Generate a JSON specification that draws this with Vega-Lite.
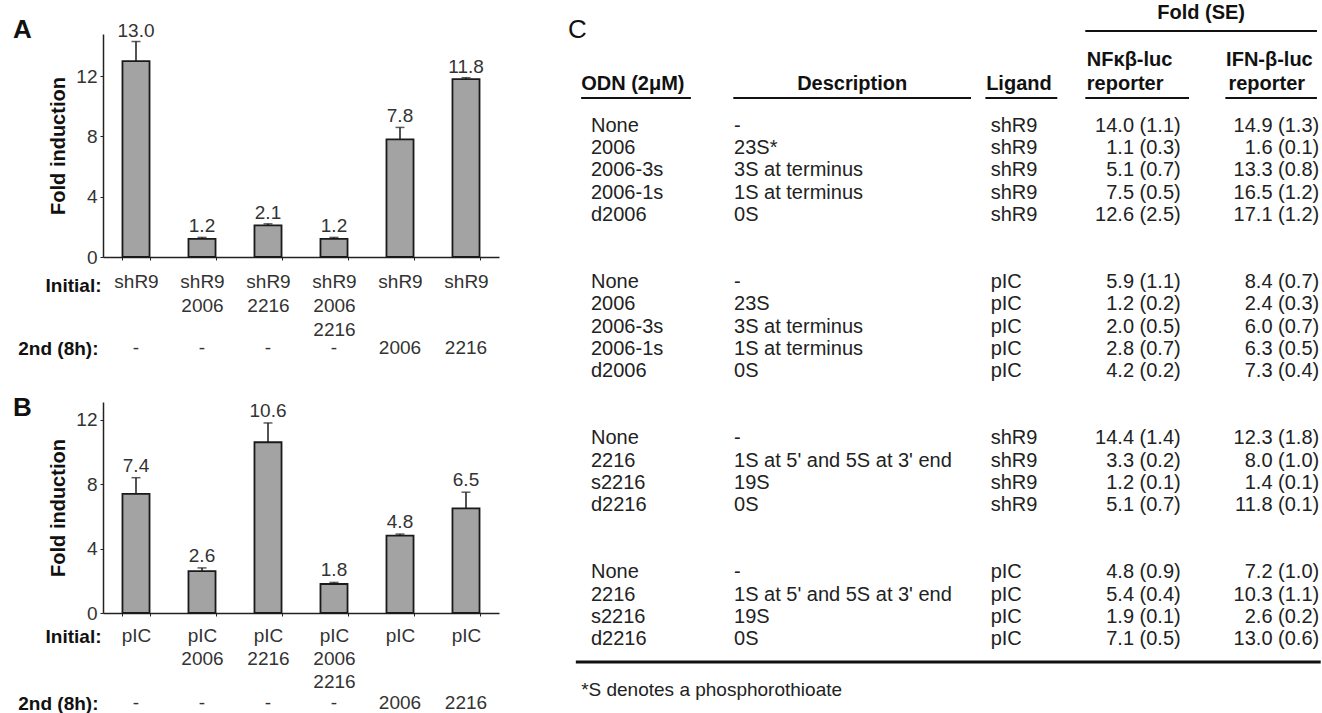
{
  "$schema": "https://vega.github.io/schema/vega-lite/v6.json",
  "padding": {"left": 13, "top": 3, "right": 0, "bottom": 0},
  "background": "white",
  "config": {
    "view": {"stroke": null},
    "font": "Liberation Sans",
    "text": {"font": "Liberation Sans"},
    "axis": {"labelFont": "Liberation Sans", "titleFont": "Liberation Sans", "grid": false, "labelColor": "#333", "titleColor": "#111", "domainColor": "#222", "tickColor": "#222"},
    "title": {"font": "Liberation Sans"}
  },
  "datasets": {
    "panelA": [
      {"cond": "shR9;-", "value": 13.0, "hi": 14.3},
      {"cond": "shR9 2006;-", "value": 1.2, "hi": 1.3},
      {"cond": "shR9 2216;-", "value": 2.1, "hi": 2.2},
      {"cond": "shR9 2006 2216;-", "value": 1.2, "hi": 1.3},
      {"cond": "shR9;2006", "value": 7.8, "hi": 8.6},
      {"cond": "shR9;2216", "value": 11.8, "hi": 11.9}
    ],
    "panelB": [
      {"cond": "pIC;-", "value": 7.4, "hi": 8.4},
      {"cond": "pIC 2006;-", "value": 2.6, "hi": 2.8},
      {"cond": "pIC 2216;-", "value": 10.6, "hi": 11.8},
      {"cond": "pIC 2006 2216;-", "value": 1.8, "hi": 1.9},
      {"cond": "pIC;2006", "value": 4.8, "hi": 4.9},
      {"cond": "pIC;2216", "value": 6.5, "hi": 7.5}
    ],
    "table": [
      {"line": 0, "odn": "None", "desc": "-", "ligand": "shR9", "nf": "14.0 (1.1)", "ifn": "14.9 (1.3)"},
      {"line": 1, "odn": "2006", "desc": "23S*", "ligand": "shR9", "nf": "1.1 (0.3)", "ifn": "1.6 (0.1)"},
      {"line": 2, "odn": "2006-3s", "desc": "3S at terminus", "ligand": "shR9", "nf": "5.1 (0.7)", "ifn": "13.3 (0.8)"},
      {"line": 3, "odn": "2006-1s", "desc": "1S at terminus", "ligand": "shR9", "nf": "7.5 (0.5)", "ifn": "16.5 (1.2)"},
      {"line": 4, "odn": "d2006", "desc": "0S", "ligand": "shR9", "nf": "12.6 (2.5)", "ifn": "17.1 (1.2)"},
      {"line": 7, "odn": "None", "desc": "-", "ligand": "pIC", "nf": "5.9 (1.1)", "ifn": "8.4 (0.7)"},
      {"line": 8, "odn": "2006", "desc": "23S", "ligand": "pIC", "nf": "1.2 (0.2)", "ifn": "2.4 (0.3)"},
      {"line": 9, "odn": "2006-3s", "desc": "3S at terminus", "ligand": "pIC", "nf": "2.0 (0.5)", "ifn": "6.0 (0.7)"},
      {"line": 10, "odn": "2006-1s", "desc": "1S at terminus", "ligand": "pIC", "nf": "2.8 (0.7)", "ifn": "6.3 (0.5)"},
      {"line": 11, "odn": "d2006", "desc": "0S", "ligand": "pIC", "nf": "4.2 (0.2)", "ifn": "7.3 (0.4)"},
      {"line": 14, "odn": "None", "desc": "-", "ligand": "shR9", "nf": "14.4 (1.4)", "ifn": "12.3 (1.8)"},
      {"line": 15, "odn": "2216", "desc": "1S at 5' and 5S at 3' end", "ligand": "shR9", "nf": "3.3 (0.2)", "ifn": "8.0 (1.0)"},
      {"line": 16, "odn": "s2216", "desc": "19S", "ligand": "shR9", "nf": "1.2 (0.1)", "ifn": "1.4 (0.1)"},
      {"line": 17, "odn": "d2216", "desc": "0S", "ligand": "shR9", "nf": "5.1 (0.7)", "ifn": "11.8 (0.1)"},
      {"line": 20, "odn": "None", "desc": "-", "ligand": "pIC", "nf": "4.8 (0.9)", "ifn": "7.2 (1.0)"},
      {"line": 21, "odn": "2216", "desc": "1S at 5' and 5S at 3' end", "ligand": "pIC", "nf": "5.4 (0.4)", "ifn": "10.3 (1.1)"},
      {"line": 22, "odn": "s2216", "desc": "19S", "ligand": "pIC", "nf": "1.9 (0.1)", "ifn": "2.6 (0.2)"},
      {"line": 23, "odn": "d2216", "desc": "0S", "ligand": "pIC", "nf": "7.1 (0.5)", "ifn": "13.0 (0.6)"}
    ]
  },
  "bounds": "flush",
  "columns": 2,
  "spacing": {"row": 145, "column": 67},
  "concat": [
    {
      "width": 396,
      "height": 223,
      "title": {"text": "A", "anchor": "start", "frame": "group", "fontSize": 26, "fontWeight": "bold", "color": "#111", "offset": 0, "dx": -90, "dy": 42, "baseline": "alphabetic"},
      "data": {"name": "panelA"},
      "resolve": {"axis": {"x": "independent"}},
      "layer": [
        {
          "mark": {"type": "bar", "fill": "#a3a3a3", "stroke": "#1a1a1a", "strokeWidth": 1.8},
          "encoding": {
            "x": {"field": "cond", "type": "nominal", "sort": null, "scale": {"paddingInner": 0.59},
              "axis": {"orient": "bottom", "domainWidth": 1.5, "tickBand": "extent", "tickSize": 3, "labelExpr": "split(split(datum.label, ';')[0], ' ')", "labelAngle": 0, "labelFontSize": 19, "labelLineHeight": 24, "labelPadding": 12, "labelOverlap": false, "labelBound": false, "title": "Initial:", "titleFontSize": 19, "titleFontWeight": "bold", "titleAlign": "right", "titleX": -2, "titleY": 28, "titleBaseline": "middle", "titleAngle": 0}},
            "y": {"field": "value", "type": "quantitative", "scale": {"domain": [0, 14.8], "nice": false},
              "axis": {"values": [0, 2, 4, 6, 8, 10, 12, 14], "labelExpr": "datum.value % 4 === 0 ? datum.label : ''", "domainWidth": 1.5, "tickSize": 3, "labelFontSize": 19, "labelPadding": 3, "title": "Fold induction", "titleFontSize": 20, "titleFontWeight": "bold", "titlePadding": 7}}
          }
        },
        {
          "mark": {"type": "rule", "color": "#1a1a1a", "strokeWidth": 1.5},
          "encoding": {
            "x": {"field": "cond", "type": "nominal", "sort": null,
              "axis": {"orient": "bottom", "domain": false, "ticks": false, "labelExpr": "split(datum.label, ';')[1]", "labelAngle": 0, "labelFontSize": 19, "labelPadding": 81, "labelOverlap": false, "labelBound": false, "title": "2nd (8h):", "titleFontSize": 19, "titleFontWeight": "bold", "titleAlign": "right", "titleX": -5, "titleY": 91, "titleBaseline": "middle", "titleAngle": 0}},
            "y": {"field": "value", "type": "quantitative"},
            "y2": {"field": "hi"}
          }
        },
        {
          "mark": {"type": "tick", "orient": "horizontal", "size": 9, "thickness": 1.5, "color": "#1a1a1a"},
          "encoding": {
            "x": {"field": "cond", "type": "nominal", "sort": null, "axis": null},
            "y": {"field": "hi", "type": "quantitative"}
          }
        },
        {
          "mark": {"type": "text", "baseline": "alphabetic", "dy": -5, "fontSize": 19, "color": "#333"},
          "encoding": {
            "x": {"field": "cond", "type": "nominal", "sort": null, "axis": null},
            "y": {"field": "hi", "type": "quantitative"},
            "text": {"field": "value", "type": "quantitative", "format": ".1f"}
          }
        }
      ]
    },
    {
      "width": 757,
      "height": 223,
      "title": {"text": "C", "anchor": "start", "frame": "group", "fontSize": 26, "fontWeight": "normal", "color": "#111", "offset": 0, "dx": 2, "dy": 61, "baseline": "alphabetic"},
      "data": {"name": "table"},
      "encoding": {
        "y": {"field": "line", "type": "quantitative", "scale": {"domain": [-4.1, 5.886], "reverse": true, "nice": false, "zero": false}, "axis": null}
      },
      "layer": [
        {
          "mark": {"type": "text", "align": "left", "baseline": "middle", "fontSize": 20, "color": "#222"},
          "encoding": {
            "x": {"datum": 3.3, "type": "quantitative", "scale": {"domain": [0, 100], "nice": false, "zero": false}, "axis": null},
            "text": {"field": "odn"}
          }
        },
        {
          "mark": {"type": "text", "align": "left", "baseline": "middle", "fontSize": 20, "color": "#222"},
          "encoding": {"x": {"datum": 22.2, "type": "quantitative"}, "text": {"field": "desc"}}
        },
        {
          "mark": {"type": "text", "align": "left", "baseline": "middle", "fontSize": 20, "color": "#222"},
          "encoding": {"x": {"datum": 56.1, "type": "quantitative"}, "text": {"field": "ligand"}}
        },
        {
          "mark": {"type": "text", "align": "right", "baseline": "middle", "fontSize": 20, "color": "#222"},
          "encoding": {"x": {"datum": 81.2, "type": "quantitative"}, "text": {"field": "nf"}}
        },
        {
          "mark": {"type": "text", "align": "right", "baseline": "middle", "fontSize": 20, "color": "#222"},
          "encoding": {"x": {"datum": 99.5, "type": "quantitative"}, "text": {"field": "ifn"}}
        },
        {
          "transform": [{"filter": "datum.line === 0"}],
          "mark": {"type": "text", "align": "left", "baseline": "middle", "fontSize": 20, "fontWeight": "bold", "color": "#111"},
          "encoding": {"x": {"datum": 2.0, "type": "quantitative"}, "y": {"datum": -1.86, "type": "quantitative"}, "text": {"value": "ODN (2μM)"}}
        },
        {
          "transform": [{"filter": "datum.line === 0"}],
          "mark": {"type": "text", "align": "center", "baseline": "middle", "fontSize": 20, "fontWeight": "bold", "color": "#111"},
          "encoding": {"x": {"datum": 37.8, "type": "quantitative"}, "y": {"datum": -1.86, "type": "quantitative"}, "text": {"value": "Description"}}
        },
        {
          "transform": [{"filter": "datum.line === 0"}],
          "mark": {"type": "text", "align": "left", "baseline": "middle", "fontSize": 20, "fontWeight": "bold", "color": "#111"},
          "encoding": {"x": {"datum": 55.5, "type": "quantitative"}, "y": {"datum": -1.86, "type": "quantitative"}, "text": {"value": "Ligand"}}
        },
        {
          "transform": [{"filter": "datum.line === 0"}],
          "mark": {"type": "text", "align": "left", "baseline": "middle", "fontSize": 20, "fontWeight": "bold", "color": "#111"},
          "encoding": {"x": {"datum": 68.8, "type": "quantitative"}, "y": {"datum": -2.94, "type": "quantitative"}, "text": {"value": "NFκβ-luc"}}
        },
        {
          "transform": [{"filter": "datum.line === 0"}],
          "mark": {"type": "text", "align": "left", "baseline": "middle", "fontSize": 20, "fontWeight": "bold", "color": "#111"},
          "encoding": {"x": {"datum": 68.8, "type": "quantitative"}, "y": {"datum": -1.86, "type": "quantitative"}, "text": {"value": "reporter"}}
        },
        {
          "transform": [{"filter": "datum.line === 0"}],
          "mark": {"type": "text", "align": "left", "baseline": "middle", "fontSize": 20, "fontWeight": "bold", "color": "#111"},
          "encoding": {"x": {"datum": 87.2, "type": "quantitative"}, "y": {"datum": -2.94, "type": "quantitative"}, "text": {"value": "IFN-β-luc"}}
        },
        {
          "transform": [{"filter": "datum.line === 0"}],
          "mark": {"type": "text", "align": "left", "baseline": "middle", "fontSize": 20, "fontWeight": "bold", "color": "#111"},
          "encoding": {"x": {"datum": 87.5, "type": "quantitative"}, "y": {"datum": -1.86, "type": "quantitative"}, "text": {"value": "reporter"}}
        },
        {
          "transform": [{"filter": "datum.line === 0"}],
          "mark": {"type": "text", "align": "center", "baseline": "middle", "fontSize": 20, "fontWeight": "bold", "color": "#111"},
          "encoding": {"x": {"datum": 83.9, "type": "quantitative"}, "y": {"datum": -5.04, "type": "quantitative"}, "text": {"value": "Fold (SE)"}}
        },
        {
          "transform": [{"filter": "datum.line === 0"}],
          "mark": {"type": "text", "align": "left", "baseline": "middle", "fontSize": 19, "color": "#222"},
          "encoding": {"x": {"datum": 2.0, "type": "quantitative"}, "y": {"datum": 25.28, "type": "quantitative"}, "text": {"value": "*S denotes a phosphorothioate"}}
        },
        {
          "transform": [{"filter": "datum.line === 0"}],
          "mark": {"type": "rule", "color": "#111", "strokeWidth": 2},
          "encoding": {"x": {"datum": 2.0, "type": "quantitative"}, "x2": {"datum": 16.5}, "y": {"datum": -1.23, "type": "quantitative"}}
        },
        {
          "transform": [{"filter": "datum.line === 0"}],
          "mark": {"type": "rule", "color": "#111", "strokeWidth": 2},
          "encoding": {"x": {"datum": 22.1, "type": "quantitative"}, "x2": {"datum": 53.5}, "y": {"datum": -1.23, "type": "quantitative"}}
        },
        {
          "transform": [{"filter": "datum.line === 0"}],
          "mark": {"type": "rule", "color": "#111", "strokeWidth": 2},
          "encoding": {"x": {"datum": 55.4, "type": "quantitative"}, "x2": {"datum": 64.9}, "y": {"datum": -1.23, "type": "quantitative"}}
        },
        {
          "transform": [{"filter": "datum.line === 0"}],
          "mark": {"type": "rule", "color": "#111", "strokeWidth": 2},
          "encoding": {"x": {"datum": 68.6, "type": "quantitative"}, "x2": {"datum": 82.3}, "y": {"datum": -1.23, "type": "quantitative"}}
        },
        {
          "transform": [{"filter": "datum.line === 0"}],
          "mark": {"type": "rule", "color": "#111", "strokeWidth": 2},
          "encoding": {"x": {"datum": 87.1, "type": "quantitative"}, "x2": {"datum": 99.2}, "y": {"datum": -1.23, "type": "quantitative"}}
        },
        {
          "transform": [{"filter": "datum.line === 0"}],
          "mark": {"type": "rule", "color": "#111", "strokeWidth": 2},
          "encoding": {"x": {"datum": 68.6, "type": "quantitative"}, "x2": {"datum": 99.2}, "y": {"datum": -4.23, "type": "quantitative"}}
        },
        {
          "transform": [{"filter": "datum.line === 0"}],
          "mark": {"type": "rule", "color": "#111", "strokeWidth": 3},
          "encoding": {"x": {"datum": 1.3, "type": "quantitative"}, "x2": {"datum": 99.7}, "y": {"datum": 24.02, "type": "quantitative"}}
        }
      ]
    },
    {
      "width": 396,
      "height": 211,
      "title": {"text": "B", "anchor": "start", "frame": "group", "fontSize": 26, "fontWeight": "bold", "color": "#111", "offset": 0, "dx": -90, "dy": 40, "baseline": "alphabetic"},
      "data": {"name": "panelB"},
      "resolve": {"axis": {"x": "independent"}},
      "layer": [
        {
          "mark": {"type": "bar", "fill": "#a3a3a3", "stroke": "#1a1a1a", "strokeWidth": 1.8},
          "encoding": {
            "x": {"field": "cond", "type": "nominal", "sort": null, "scale": {"paddingInner": 0.59},
              "axis": {"orient": "bottom", "domainWidth": 1.5, "tickBand": "extent", "tickSize": 3, "labelExpr": "split(split(datum.label, ';')[0], ' ')", "labelAngle": 0, "labelFontSize": 19, "labelLineHeight": 23, "labelPadding": 10, "labelOverlap": false, "labelBound": false, "title": "Initial:", "titleFontSize": 19, "titleFontWeight": "bold", "titleAlign": "right", "titleX": -2, "titleY": 23, "titleBaseline": "middle", "titleAngle": 0}},
            "y": {"field": "value", "type": "quantitative", "scale": {"domain": [0, 13.1], "nice": false},
              "axis": {"values": [0, 2, 4, 6, 8, 10, 12], "labelExpr": "datum.value % 4 === 0 ? datum.label : ''", "domainWidth": 1.5, "tickSize": 3, "labelFontSize": 19, "labelPadding": 3, "title": "Fold induction", "titleFontSize": 20, "titleFontWeight": "bold", "titlePadding": 7}}
          }
        },
        {
          "mark": {"type": "rule", "color": "#1a1a1a", "strokeWidth": 1.5},
          "encoding": {
            "x": {"field": "cond", "type": "nominal", "sort": null,
              "axis": {"orient": "bottom", "domain": false, "ticks": false, "labelExpr": "split(datum.label, ';')[1]", "labelAngle": 0, "labelFontSize": 19, "labelPadding": 80, "labelOverlap": false, "labelBound": false, "title": "2nd (8h):", "titleFontSize": 19, "titleFontWeight": "bold", "titleAlign": "right", "titleX": -5, "titleY": 90, "titleBaseline": "middle", "titleAngle": 0}},
            "y": {"field": "value", "type": "quantitative"},
            "y2": {"field": "hi"}
          }
        },
        {
          "mark": {"type": "tick", "orient": "horizontal", "size": 9, "thickness": 1.5, "color": "#1a1a1a"},
          "encoding": {
            "x": {"field": "cond", "type": "nominal", "sort": null, "axis": null},
            "y": {"field": "hi", "type": "quantitative"}
          }
        },
        {
          "mark": {"type": "text", "baseline": "alphabetic", "dy": -6, "fontSize": 19, "color": "#333"},
          "encoding": {
            "x": {"field": "cond", "type": "nominal", "sort": null, "axis": null},
            "y": {"field": "hi", "type": "quantitative"},
            "text": {"field": "value", "type": "quantitative", "format": ".1f"}
          }
        }
      ]
    }
  ]
}
